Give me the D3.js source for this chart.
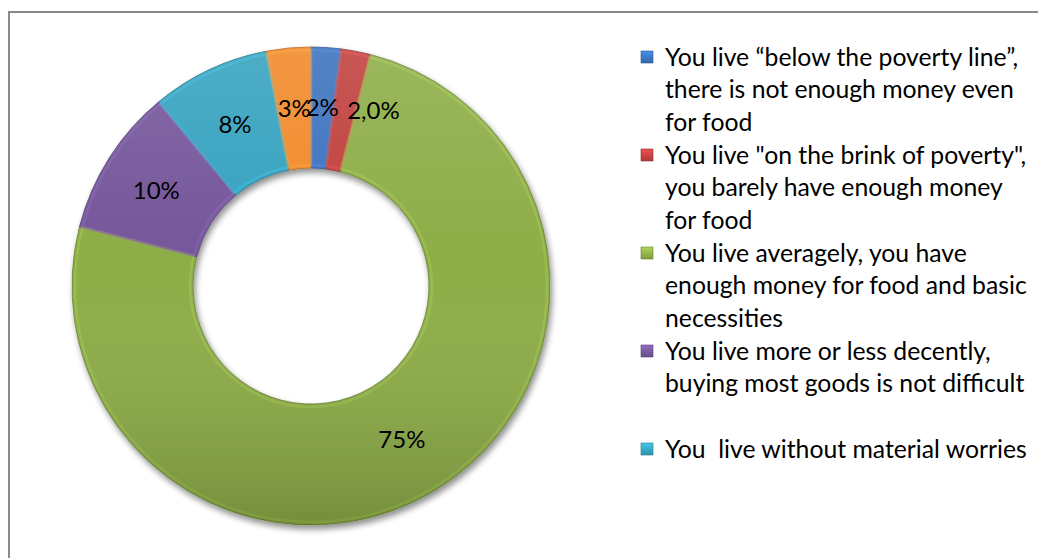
<!DOCTYPE html>
<html><head><meta charset="utf-8">
<script src="https://cdn.jsdelivr.net/npm/d3@7"></script>
<style>
html,body{margin:0;padding:0;background:#fff;}
svg{display:block;}
text{font-family:Lato,"Open Sans",sans-serif;fill:#000;white-space:pre;}
</style></head>
<body>
<script>
const categories = [
  "below the poverty line",
  "on the brink of poverty",
  "averagely",
  "more or less decently",
  "without material worries",
  "other"
];
const values = [2, 2, 75, 10, 8, 3];
const valueLabels = ["2%", "2,0%", "75%", "10%", "8%", "3%"];
const colors = ["#3a72be", "#c0403e", "#8dad46", "#74569a", "#34a2bf", "#f2892a"];
const legendLines = [
  ["You live “below the poverty line”,", "there is not enough money even", "for food"],
  ["You live \"on the brink of poverty\",", "you barely have enough money", "for food"],
  ["You live averagely, you have", "enough money for food and basic", "necessities"],
  ["You live more or less decently,", "buying most goods is not difficult", ""],
  ["You  live without material worries"]
];

const W = 1038, H = 558;
const svg = d3.select("body").append("svg").attr("width", W).attr("height", H);
const defs = svg.append("defs");

// frame
svg.append("rect").attr("x", 9).attr("y", 12).attr("width", W + 10).attr("height", H + 10)
  .attr("fill", "none").attr("stroke", "#8a8a8a").attr("stroke-width", 2);

const cx = 311, cy = 286, rOuter = 239, rInner = 118;

// shadow filter
const f = defs.append("filter").attr("id", "shadow").attr("x", "-10%").attr("y", "-10%").attr("width", "130%").attr("height", "130%");
f.append("feGaussianBlur").attr("in", "SourceAlpha").attr("stdDeviation", 3).attr("result", "b");
f.append("feOffset").attr("in", "b").attr("dx", 2).attr("dy", 4).attr("result", "o");
f.append("feComponentTransfer").attr("in", "o").attr("result", "o2")
  .append("feFuncA").attr("type", "linear").attr("slope", 0.45);
const fm = f.append("feMerge");
fm.append("feMergeNode").attr("in", "o2");
fm.append("feMergeNode").attr("in", "SourceGraphic");

// vertical shading gradient (path-local coordinates, origin at donut centre)
const lg = defs.append("linearGradient").attr("id", "shade").attr("gradientUnits", "userSpaceOnUse")
  .attr("x1", 0).attr("y1", -rOuter).attr("x2", 0).attr("y2", rOuter);
lg.append("stop").attr("offset", 0).attr("stop-color", "#fff").attr("stop-opacity", 0.12);
lg.append("stop").attr("offset", 0.45).attr("stop-color", "#fff").attr("stop-opacity", 0);
lg.append("stop").attr("offset", 1).attr("stop-color", "#000").attr("stop-opacity", 0.18);

const pie = d3.pie().sort(null).value(d => d)(values);
const arc = d3.arc().innerRadius(rInner).outerRadius(rOuter);
const bevel = d3.arc().innerRadius(rInner + 3).outerRadius(rOuter - 3);

const g = svg.append("g").attr("transform", `translate(${cx},${cy})`);
const gs = g.append("g").attr("filter", "url(#shadow)");
gs.selectAll("path.slice").data(pie).join("path").attr("class", "slice")
  .attr("d", arc).attr("fill", (d, i) => colors[i])
  .attr("stroke", (d, i) => d3.color(colors[i]).darker(0.8)).attr("stroke-width", 0.8);
// bevel highlight
g.selectAll("path.bev").data(pie).join("path").attr("class", "bev")
  .attr("d", bevel).attr("fill", "none")
  .attr("stroke", (d, i) => d3.color(colors[i]).brighter(0.6)).attr("stroke-opacity", 0.35).attr("stroke-width", 2.5);
// shading overlay
g.selectAll("path.shade").data(pie).join("path").attr("class", "shade")
  .attr("d", arc).attr("fill", "url(#shade)");

// labels
const labelNudge = [0, 29, 0, -4, 0, 0];
g.selectAll("text.lbl").data(pie).join("text").attr("class", "lbl")
  .attr("x", (d, i) => arc.centroid(d)[0] + labelNudge[i])
  .attr("y", (d, i) => arc.centroid(d)[1])
  .attr("dy", "0.35em").attr("text-anchor", "middle")
  .attr("font-size", 24)
  .text((d, i) => valueLabels[i]);

// legend
const lgX = 641, textX = 665, firstY = 57, lineH = 32.8, itemH = 98;
const leg = svg.append("g");
legendLines.forEach((lines, i) => {
  const y0 = firstY + i * itemH;
  const c = d3.color(colors[i]);
  const gid = "lgrad" + i;
  const gr = defs.append("linearGradient").attr("id", gid).attr("x1", 0).attr("y1", 0).attr("x2", 0).attr("y2", 1);
  gr.append("stop").attr("offset", 0).attr("stop-color", c.brighter(0.6));
  gr.append("stop").attr("offset", 1).attr("stop-color", c.darker(0.3));
  leg.append("rect").attr("x", lgX).attr("y", y0 - 6).attr("width", 12).attr("height", 12)
    .attr("fill", `url(#${gid})`).attr("stroke", c.darker(0.8)).attr("stroke-width", 0.6);
  lines.forEach((t, j) => {
    leg.append("text").attr("class", "lt").attr("x", textX).attr("y", y0 + j * lineH)
      .attr("dy", "0.35em").attr("font-size", 24).text(t);
  });
});
// fit legend font to target width of widest line
const nodes = leg.selectAll("text.lt").nodes();
let maxW = d3.max(nodes, n => n.getComputedTextLength());
const target = 362;
const fs = 24 * target / maxW;
leg.selectAll("text.lt").attr("font-size", fs);
</script>
</body></html>
